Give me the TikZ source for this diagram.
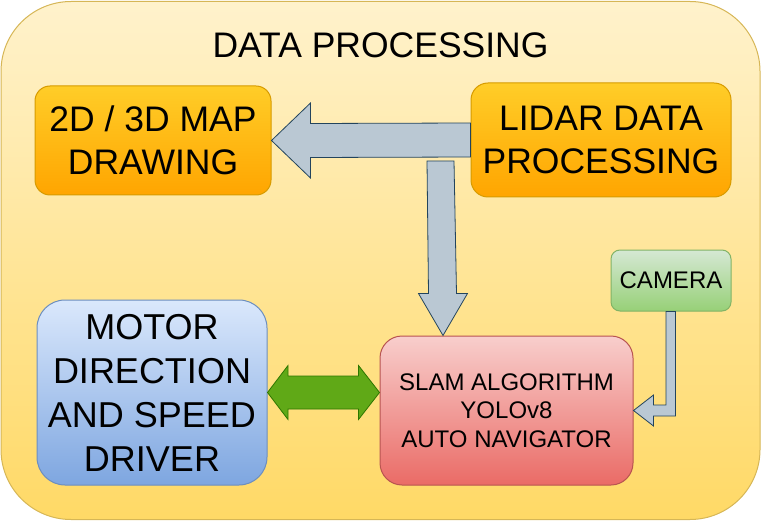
\documentclass[tikz,border=0pt]{standalone}
\usepackage{fontspec}
\setmainfont{Liberation Sans}
\usetikzlibrary{calc,positioning}

\definecolor{outertop}{HTML}{FFF2CC}
\definecolor{outerbot}{HTML}{FFD966}
\definecolor{outerline}{HTML}{D6B656}
\definecolor{orangetop}{HTML}{FFCD28}
\definecolor{orangebot}{HTML}{FFA500}
\definecolor{orangeline}{HTML}{D79B00}
\definecolor{bluetop}{HTML}{DAE8FC}
\definecolor{bluebot}{HTML}{7EA6E0}
\definecolor{blueline}{HTML}{6C8EBF}
\definecolor{redtop}{HTML}{F8CECC}
\definecolor{redbot}{HTML}{EA6B66}
\definecolor{redline}{HTML}{B85450}
\definecolor{greentop}{HTML}{D5E8D4}
\definecolor{greenbot}{HTML}{97D077}
\definecolor{greenline}{HTML}{82B366}
\definecolor{arrowfill}{HTML}{BAC8D3}
\definecolor{arrowline}{HTML}{23445D}
\definecolor{linkfill}{HTML}{60A917}
\definecolor{linkline}{HTML}{2D7600}

\begin{document}
\begin{tikzpicture}[x=1pt,y=-1pt,line width=1pt,
	box/.style={draw,inner sep=0pt,align=center,text=black},
	bigtext/.style={font=\fontsize{35.5}{42.5}\selectfont},
	smalltext/.style={font=\fontsize{24}{28.5}\selectfont},
	orangebox/.style={box,bigtext,draw=orangeline,top color=orangetop,bottom color=orangebot},
	blockarrow/.style={draw=arrowline,fill=arrowfill,line width=0.8pt,line join=miter},
	linkarrow/.style={draw=linkline,fill=linkfill,line width=0.8pt}]
	\useasboundingbox (0,0) rectangle (762,521);
	% container
	\node[box,draw=outerline,top color=outertop,bottom color=outerbot,rounded corners=70pt,
		minimum width=759pt,minimum height=518pt] (frame) at (380.5,260.5) {};
	\node[font=\fontsize{35.5}{40}\selectfont] (title) at (380.5,45) {DATA PROCESSING};
	% blocks
	\node[orangebox,rounded corners=15pt,minimum width=236pt,minimum height=109pt] (map) at (153,140.5) {2D / 3D MAP\\DRAWING};
	\node[orangebox,rounded corners=17pt,minimum width=260pt,minimum height=114pt] (lidar) at (601,140) {LIDAR DATA\\PROCESSING};
	\node[box,smalltext,draw=greenline,top color=greentop,bottom color=greenbot,rounded corners=9pt,
		minimum width=120pt,minimum height=61pt] (camera) at (671,280.5) {CAMERA};
	\node[box,smalltext,draw=redline,top color=redtop,bottom color=redbot,rounded corners=22pt,
		minimum width=253pt,minimum height=149pt] (slam) at (506.5,410.5) {SLAM ALGORITHM\\YOLOv8\\AUTO NAVIGATOR};
	\node[box,font=\fontsize{36}{44}\selectfont,draw=blueline,top color=bluetop,bottom color=bluebot,rounded corners=28pt,
		minimum width=230pt,minimum height=185pt] (motor) at (152,392.5) {MOTOR\\DIRECTION\\AND SPEED\\DRIVER};
	% lidar -> map
	\draw[blockarrow] (map.east) -- ($(map.east)+(39,-37.5)$) -- ($(map.east)+(39,-17)$)
		-- ($(lidar.west)+(0,-17)$) -- ($(lidar.west)+(0,17)$)
		-- ($(map.east)+(39,17)$) -- ($(map.east)+(39,37.5)$) -- cycle;
	% lidar -> slam
	\coordinate (fork) at (440.5,161);
	\coordinate (slamin) at ($(slam.north)+(-63.5,0)$);
	\draw[blockarrow] ($(fork)+(-13.5,0)$) -- ($(slamin)+(-14.5,-42)$) -- ($(slamin)+(-24.5,-42)$)
		-- (slamin) -- ($(slamin)+(24.5,-42)$) -- ($(slamin)+(13.5,-42)$)
		-- ($(fork)+(13.5,0)$) -- cycle;
	% camera -> slam
	\draw[blockarrow] ($(camera.south)+(-5,0)$) |- ($(slam.east)+(20,-5.5)$) -- ($(slam.east)+(20,-15.5)$)
		-- (slam.east) -- ($(slam.east)+(20,15.5)$) -- ($(slam.east)+(20,5.5)$)
		-| ($(camera.south)+(4.5,0)$) -- cycle;
	% motor <-> slam
	\coordinate (motorlink) at (slam.west |- motor.east);
	\draw[linkarrow] (motor.east) -- ($(motor.east)+(20.5,-27)$) -- ($(motor.east)+(20.5,-16.5)$)
		-- ($(motorlink)+(-21,-16.5)$) -- ($(motorlink)+(-21,-27)$) -- (motorlink)
		-- ($(motorlink)+(-21,27)$) -- ($(motorlink)+(-21,16.5)$)
		-- ($(motor.east)+(20.5,16.5)$) -- ($(motor.east)+(20.5,27)$) -- cycle;
\end{tikzpicture}
\end{document}
